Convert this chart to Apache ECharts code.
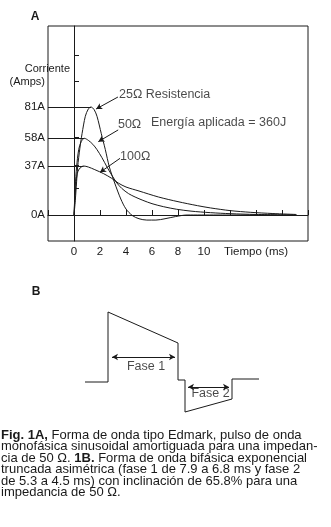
<!DOCTYPE html>
<html>
<head>
<meta charset="utf-8">
<script src="https://cdn.jsdelivr.net/npm/echarts@6/dist/echarts.min.js"></script>
<style>
html, body { margin: 0; padding: 0; background: #fff; }
#main { width: 331px; height: 527px; }
</style>
</head>
<body>
<div id="main"></div>
<script>
// Panel A: corriente (A) frente a tiempo (ms)
var curve25 = [[0,0],[0.1,11],[0.2,25],[0.28,36],[0.45,50],[0.62,61],[0.87,74],[1.1,79.5],[1.31,81],[1.55,79],[1.77,74],[2.1,61],[2.41,49],[2.72,36],[3.13,24],[3.6,12],[4.0,4.5],[4.5,-0.5],[5.0,-2.8],[5.6,-3.8],[6.3,-3.8],[7.0,-2.8],[7.8,-1.2],[8.7,0],[17.1,0]];
var curve50 = [[0,0],[0.1,22],[0.2,36],[0.36,49],[0.55,55],[0.8,57.5],[1.1,56],[1.45,53],[1.77,49],[2.15,43],[2.54,36],[2.9,30],[3.3,24],[3.67,20],[4.2,16],[4.7,13.5],[5.3,11],[6.0,8.5],[6.9,6.2],[7.9,4.3],[9.0,2.9],[10.5,1.75],[12,1],[14,0.4],[17.1,0]];
var curve100 = [[0,0],[0.07,12],[0.15,24],[0.25,31],[0.4,34.5],[0.74,36.75],[1.1,36],[1.6,34],[2.28,31],[2.9,27.5],[3.4,24],[4.0,21],[5.0,18],[6.5,13.5],[8.0,10],[9.5,7],[10.5,5.3],[12,3.3],[13.6,2],[15.3,1.1],[17.1,0.4]];
var xLabelsA = {0:'0', 2:'2', 4:'4', 6:'6', 8:'8', 10:'10', 14:'Tiempo (ms)'};
var yTicksA = [0, 20, 37, 58, 81, 100, 120];
var yLabelsA = [0, 37, 58, 81, 100];

// Panel B: forma de onda bifásica (unidades relativas)
var waveB = [[0,0],[2.3,0],[2.3,7],[9.3,3.9],[9.3,0.2],[10,0.2],[10,-3],[14.7,-1.7],[14.7,0.3],[17.4,0.3]];
var fase1 = [[2.7,2.5],[9.0,2.5]];
var fase2 = [[10.3,-0.5],[14.4,-0.5]];

var captionLines = [
    '{b|Fig. 1A,} Forma de onda tipo Edmark, pulso de onda',
    'monofásica sinusoidal amortiguada para una impedan-',
    'cia de 50 Ω. {b|1B.} Forma de onda bifásica exponencial',
    'truncada asimétrica (fase 1 de 7.9 a 6.8 ms y fase 2',
    'de 5.3 a 4.5 ms) con inclinación de 65.8% para una',
    'impedancia de 50 Ω.'
];

var FONT = '"Liberation Sans", Arial, sans-serif';
var INK = '#1a1a1a';

function peakOf(d) {
    var p = d[0];
    d.forEach(function (q) { if (q[1] > p[1]) p = q; });
    return p;
}

var guides = [curve25, curve50, curve100].map(function (d) {
    var p = peakOf(d);
    return [{coord: [-2, p[1]]}, {coord: [p[0], p[1]]}];
});

var lineStyleA = {color: INK, width: 1};

var chart = echarts.init(document.getElementById('main'));
var option = {
    animation: false,
    backgroundColor: '#fff',
    textStyle: {fontFamily: FONT},
    grid: [
        {left: 48, top: 26, width: 260, height: 215, show: true, borderColor: INK, borderWidth: 1},
        {left: 85, top: 302, width: 174, height: 120}
    ],
    xAxis: [{
        gridIndex: 0, type: 'value', min: -2, max: 18, interval: 2,
        axisLine: {lineStyle: {color: INK}},
        axisTick: {inside: true, length: 5, lineStyle: {color: INK}},
        splitLine: {show: false},
        axisLabel: {
            color: INK, fontSize: 11.5, margin: 5, fontFamily: FONT,
            showMinLabel: true, showMaxLabel: true,
            formatter: function (v) { return xLabelsA[v] || ''; }
        }
    }, {
        gridIndex: 1, type: 'value', min: 0, max: 17.4, show: false
    }],
    yAxis: [{
        gridIndex: 0, type: 'value', min: -19.5, max: 141.75,
        name: 'Corriente', nameLocation: 'end', nameGap: -43,
        nameTextStyle: {color: INK, fontSize: 11, align: 'right', verticalAlign: 'middle', padding: [0, 4, 0, 0], fontFamily: FONT},
        axisLine: {lineStyle: {color: INK}},
        axisTick: {inside: true, length: 5, customValues: yTicksA, lineStyle: {color: INK}},
        splitLine: {show: false},
        axisLabel: {
            color: INK, fontSize: 11.5, margin: 3, fontFamily: FONT,
            customValues: yLabelsA,
            formatter: function (v) { return v === 100 ? '{s|(Amps)}' : v + 'A'; },
            rich: {s: {fontSize: 11, fontFamily: FONT, color: INK}}
        }
    }, {
        gridIndex: 1, type: 'value', min: -4, max: 8, show: false
    }],
    series: [
        {
            name: '25Ω', type: 'line', xAxisIndex: 0, yAxisIndex: 0, data: curve25,
            showSymbol: false, smooth: 0.3, lineStyle: lineStyleA,
            markLine: {
                silent: true, symbol: 'none', label: {show: false},
                lineStyle: {color: INK, width: 1, type: 'solid'},
                data: guides.concat([{yAxis: 0}, {xAxis: 0}])
            }
        },
        {
            name: '50Ω', type: 'line', xAxisIndex: 0, yAxisIndex: 0, data: curve50,
            showSymbol: false, smooth: 0.3, lineStyle: lineStyleA,
            markLine: {
                silent: true, symbol: ['none', 'arrow'], symbolSize: [5, 6], label: {show: false},
                lineStyle: {color: INK, width: 1, type: 'solid'},
                data: [
                    [{coord: [3.38, 88.5]}, {coord: [1.7, 79.5]}],
                    [{coord: [3.4, 63.8]}, {coord: [1.87, 55]}],
                    [{coord: [3.54, 42.5]}, {coord: [2.0, 32]}]
                ]
            }
        },
        {
            name: '100Ω', type: 'line', xAxisIndex: 0, yAxisIndex: 0, data: curve100,
            showSymbol: false, smooth: 0.3, lineStyle: lineStyleA
        },
        {
            name: 'notas', type: 'scatter', xAxisIndex: 0, yAxisIndex: 0, symbolSize: 0, silent: true,
            label: {
                show: true, position: 'right', distance: 0, color: INK, fontSize: 12.5, fontFamily: FONT,
                formatter: function (p) { return p.data[2]; }
            },
            data: [
                [3.46, 90, '25Ω Resistencia'],
                [3.38, 67.5, '50Ω'],
                [3.54, 44, '100Ω'],
                [5.92, 69, 'Energía aplicada = 360J']
            ]
        },
        {
            name: 'bifásica', type: 'line', xAxisIndex: 1, yAxisIndex: 1, data: waveB,
            showSymbol: false, lineStyle: {color: INK, width: 1},
            markLine: {
                silent: true, symbol: ['arrow', 'arrow'], symbolSize: [5, 6], label: {show: false},
                lineStyle: {color: INK, width: 1, type: 'solid'},
                data: [
                    [{coord: fase1[0]}, {coord: fase1[1]}],
                    [{coord: fase2[0]}, {coord: fase2[1]}]
                ]
            }
        },
        {
            name: 'fases', type: 'scatter', xAxisIndex: 1, yAxisIndex: 1, symbolSize: 0, silent: true,
            label: {
                show: true, position: 'inside', color: INK, fontSize: 12.5, fontFamily: FONT,
                formatter: function (p) { return p.data[2]; }
            },
            data: [[6.1, 1.5, 'Fase 1'], [12.55, -1.2, 'Fase 2']]
        }
    ],
    graphic: [
        {type: 'text', x: 35, y: 17, style: {text: 'A', font: 'bold 12px ' + FONT, fill: INK, align: 'center', verticalAlign: 'middle'}},
        {type: 'text', x: 36, y: 292, style: {text: 'B', font: 'bold 12px ' + FONT, fill: INK, align: 'center', verticalAlign: 'middle'}}
    ].concat(captionLines.map(function (t, i) {
        return {
            type: 'text', x: 1, y: 435 + i * 11.5,
            style: {
                text: t, font: '13px ' + FONT, fill: INK, verticalAlign: 'middle',
                rich: {b: {fontWeight: 'bold', fontSize: 13, fontFamily: FONT, fill: INK}}
            }
        };
    }))
};
chart.setOption(option);
</script>
</body>
</html>
